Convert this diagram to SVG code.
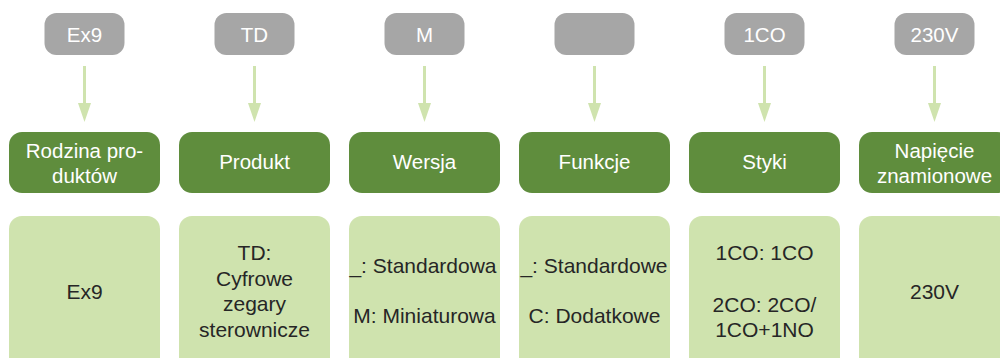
<svg xmlns="http://www.w3.org/2000/svg" width="1000" height="358" viewBox="0 0 1000 358">
<style>
.g{fill:#a6a6a6}
.d{fill:#5f8d3d}
.l{fill:#cfe3ae}
.tw{fill:#ffffff;font-family:"Liberation Sans",Arial,sans-serif;font-size:20.5px;text-anchor:middle}
.tk{fill:#262626;font-family:"Liberation Sans",Arial,sans-serif;font-size:21px;text-anchor:middle}
.c{stroke:#cfe3ae;stroke-width:3;fill:none}
.h{fill:#cfe3ae}
</style>
<rect width="1000" height="358" fill="#ffffff"/>
<g id="connectors">
<g id="a1"><line class="c" x1="84.5" y1="66" x2="84.5" y2="104"/><polygon class="h" points="78,103 91,103 84.5,122"/></g>
<g id="a2"><line class="c" x1="254.5" y1="66" x2="254.5" y2="104"/><polygon class="h" points="248,103 261,103 254.5,122"/></g>
<g id="a3"><line class="c" x1="424.5" y1="66" x2="424.5" y2="104"/><polygon class="h" points="418,103 431,103 424.5,122"/></g>
<g id="a4"><line class="c" x1="594.5" y1="66" x2="594.5" y2="104"/><polygon class="h" points="588,103 601,103 594.5,122"/></g>
<g id="a5"><line class="c" x1="764.5" y1="66" x2="764.5" y2="104"/><polygon class="h" points="758,103 771,103 764.5,122"/></g>
<g id="a6"><line class="c" x1="934.5" y1="66" x2="934.5" y2="104"/><polygon class="h" points="928,103 941,103 934.5,122"/></g>
</g>
<g id="code1"><rect class="g" x="44.5" y="13" width="80" height="42" rx="12"/><text class="tw" x="84.5" y="42">Ex9</text></g>
<g id="code2"><rect class="g" x="214.5" y="13" width="80" height="42" rx="12"/><text class="tw" x="254.5" y="42">TD</text></g>
<g id="code3"><rect class="g" x="384.5" y="13" width="80" height="42" rx="12"/><text class="tw" x="424.5" y="42">M</text></g>
<g id="code4"><rect class="g" x="554.5" y="13" width="80" height="42" rx="12"/></g>
<g id="code5"><rect class="g" x="724.5" y="13" width="80" height="42" rx="12"/><text class="tw" x="764.5" y="42">1CO</text></g>
<g id="code6"><rect class="g" x="894.5" y="13" width="80" height="42" rx="12"/><text class="tw" x="934.5" y="42">230V</text></g>

<g id="cat1"><rect class="d" x="9" y="132" width="151" height="61" rx="13"/><text class="tw" x="84.5" y="158">Rodzina pro-</text><text class="tw" x="84.5" y="183">duktów</text></g>
<g id="cat2"><rect class="d" x="179" y="132" width="151" height="61" rx="13"/><text class="tw" x="254.5" y="169">Produkt</text></g>
<g id="cat3"><rect class="d" x="349" y="132" width="151" height="61" rx="13"/><text class="tw" x="424.5" y="169">Wersja</text></g>
<g id="cat4"><rect class="d" x="519" y="132" width="151" height="61" rx="13"/><text class="tw" x="594.5" y="169">Funkcje</text></g>
<g id="cat5"><rect class="d" x="689" y="132" width="151" height="61" rx="13"/><text class="tw" x="764.5" y="169">Styki</text></g>
<g id="cat6"><rect class="d" x="859" y="132" width="151" height="61" rx="13"/><text class="tw" x="934.5" y="158">Napięcie</text><text class="tw" x="934.5" y="183">znamionowe</text></g>

<g id="val1"><rect class="l" x="9" y="216" width="151" height="160" rx="13"/><text class="tk" x="84.5" y="299">Ex9</text></g>
<g id="val2"><rect class="l" x="179" y="216" width="151" height="160" rx="13"/><text class="tk" x="254.5" y="260">TD:</text><text class="tk" x="254.5" y="286">Cyfrowe</text><text class="tk" x="254.5" y="311">zegary</text><text class="tk" x="254.5" y="337">sterownicze</text></g>
<g id="val3"><rect class="l" x="349" y="216" width="151" height="160" rx="13"/><text class="tk" x="423" y="273">_: Standardowa</text><text class="tk" x="424.5" y="323">M: Miniaturowa</text></g>
<g id="val4"><rect class="l" x="519" y="216" width="151" height="160" rx="13"/><text class="tk" x="594" y="273">_: Standardowe</text><text class="tk" x="594.5" y="323">C: Dodatkowe</text></g>
<g id="val5"><rect class="l" x="689" y="216" width="151" height="160" rx="13"/><text class="tk" x="764.5" y="260">1CO: 1CO</text><text class="tk" x="764.5" y="312">2CO: 2CO/</text><text class="tk" x="764.5" y="337">1CO+1NO</text></g>
<g id="val6"><rect class="l" x="859" y="216" width="151" height="160" rx="13"/><text class="tk" x="934.5" y="299">230V</text></g>
</svg>
